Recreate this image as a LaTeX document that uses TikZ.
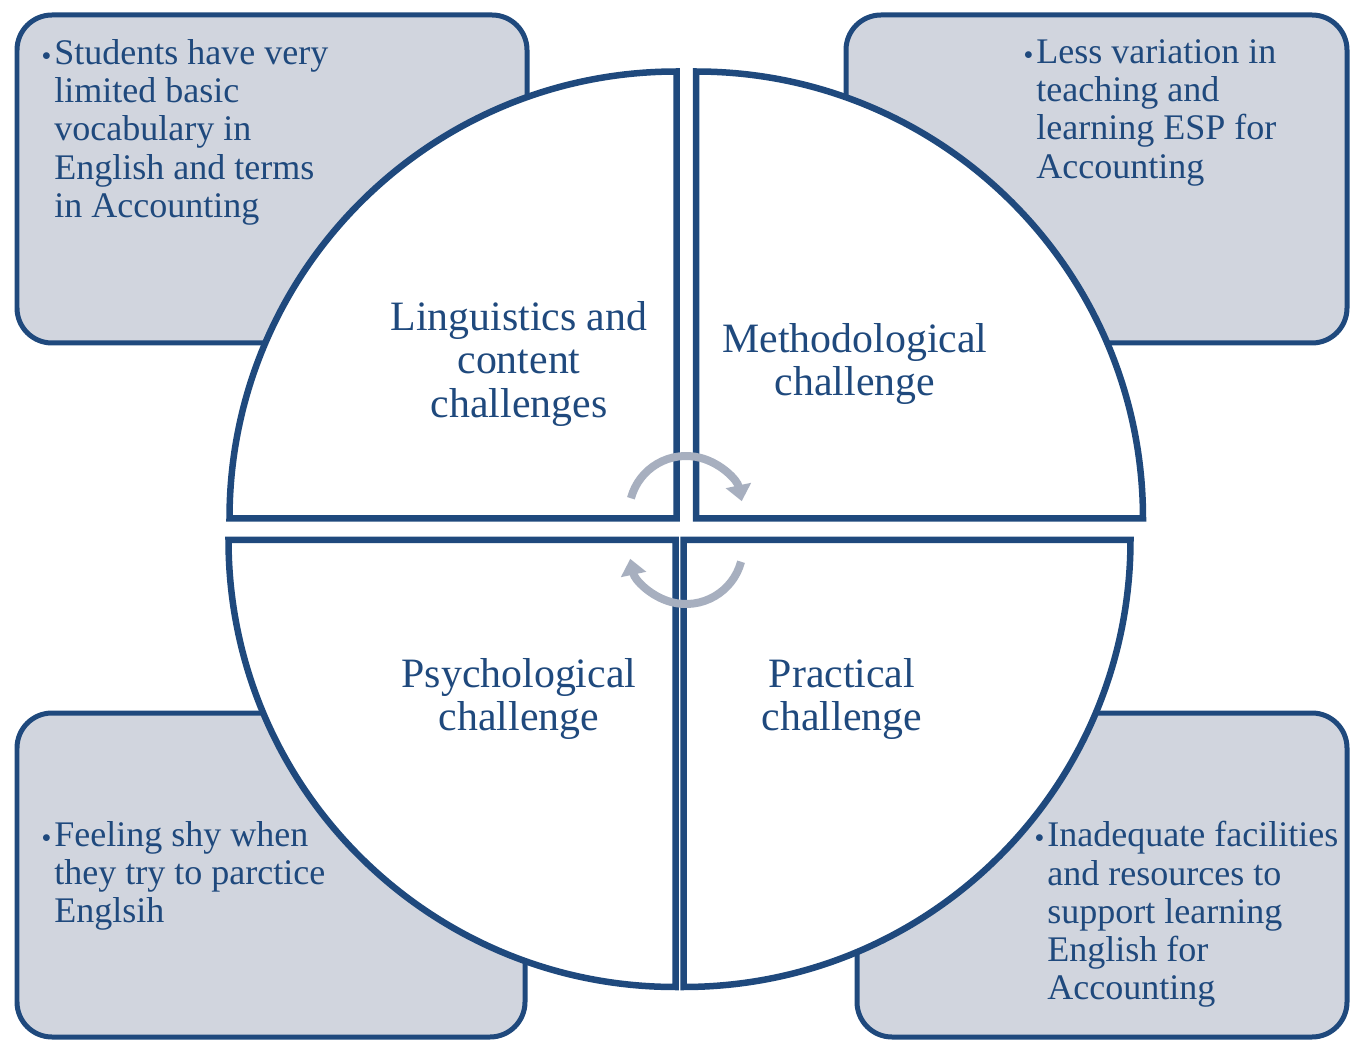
\documentclass[tikz,border=0pt]{standalone}
\usepackage{fontspec}
\setmainfont{Liberation Serif}
\usetikzlibrary{arrows.meta}
\definecolor{chalnavy}{HTML}{1F497D}
\definecolor{chalfill}{HTML}{D1D5DE}
\definecolor{chalarrow}{HTML}{A7AFBF}
\newcommand{\chalbullet}{\llap{\raisebox{2.2pt}{\normalsize$\bullet$}\hspace{2pt}}}

\begin{document}
\begin{tikzpicture}[x=0.02cm, y=0.02cm,
  infobox/.style={draw=chalnavy, fill=chalfill, line width=0.1cm, rounded corners=0.7cm},
  quadline/.style={draw=chalnavy, fill=white, line width=0.13cm, line join=miter},
  cyclearrow/.style={draw=chalarrow, line width=0.16cm, -{Triangle[length=0.32cm, width=0.5cm]}},
  boxtext/.style={anchor=north west, inner sep=0pt, align=left, text=chalnavy,
    font=\fontsize{20.5}{21.8}\selectfont},
  quadtext/.style={inner sep=0pt, align=center, text=chalnavy,
    font=\fontsize{23.8}{25}\selectfont}]
  \def\r{447}
  \useasboundingbox (0,0) rectangle (1350,-1040);
  % grey boxes behind the circle
  \foreach \xa/\ya/\xb/\yb in {17/15/527/343, 846/15/1347/343, 17/713/525/1037, 857/713/1347/1037}
    \draw[infobox] (\xa,-\ya) rectangle (\xb,-\yb);
  % four quarters
  \foreach \cx/\cy/\dx/\sa/\ea in {676.5/518.5/-1/180/90, 696/518.5/1/0/90,
                                   675.5/540/-1/180/270, 683.5/540/1/0/-90}
    \draw[quadline] (\cx,-\cy) -- ++({\dx*\r},0) arc[start angle=\sa, end angle=\ea, radius=\r] -- cycle;
  % cycle arrows
  \draw[cyclearrow] (686,-513) ++(165:57) arc[start angle=165, end angle=12, radius=57];
  \draw[cyclearrow] (686,-547) ++(-15:57) arc[start angle=-15, end angle=-168, radius=57];
  % labels
  \node[quadtext] (ling) at (519,-364) {Linguistics and\\content\\challenges};
  \node[quadtext] (meth) at (855,-364) {Methodological\\challenge};
  \node[quadtext] (psych) at (519,-699) {Psychological\\challenge};
  \node[quadtext] (prac) at (842,-699) {Practical\\challenge};
  \node[boxtext] (lingnote) at (54,-39)
    {\chalbullet Students have very\\limited basic\\vocabulary in\\English and terms\\in Accounting};
  \node[boxtext] (methnote) at (1036,-39)
    {\chalbullet Less variation in\\teaching and\\learning ESP for\\Accounting};
  \node[boxtext] (psychnote) at (54,-821)
    {\chalbullet Feeling shy when\\they try to parctice\\Englsih};
  \node[boxtext] (pracnote) at (1047,-821)
    {\chalbullet Inadequate facilities\\and resources to\\support learning\\English for\\Accounting};
\end{tikzpicture}
\end{document}
